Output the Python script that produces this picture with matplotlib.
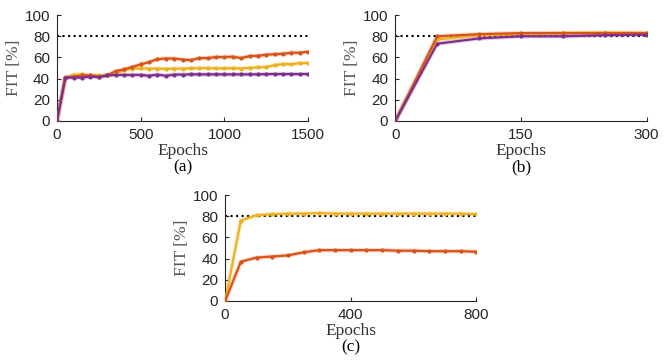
import numpy as np
import matplotlib
matplotlib.use("Agg")
from matplotlib import pyplot as plt

# epochs per panel
ep_a = np.arange(0, 1501, 50)
ep_b = np.arange(0, 301, 50)
ep_c = np.arange(0, 801, 50)

# panel (a)
fit_a_orange = [0, 41, 42, 43, 43, 42, 43, 47, 48.7, 51, 53.5, 55.6, 58.5, 59, 59, 58, 57.5,
                59.4, 59.4, 60.4, 60.4, 60.7, 59.4, 61.3, 61.6, 62.6, 63, 63.5, 64.5, 64.5, 65.4]
fit_a_yellow = [0, 41, 43.7, 44, 43, 43, 43, 45, 48, 49.4, 49.7, 49.5, 49.5, 49.2, 49.5, 49.5,
                49.7, 49.9, 49.9, 49.7, 49.7, 49.9, 49.5, 50.2, 50.6, 51, 52.8, 53.8, 53.6, 54.7, 54.7]
fit_a_purple = [0, 41, 41, 41, 42, 41.5, 43, 43.5, 43.5, 43.5, 43.5, 42.7, 43.8, 42.7, 43.8, 43.8,
                44, 44, 44, 44, 44, 44, 44, 44, 44, 44.3, 44.3, 44.3, 44.3, 44.3, 44.3]

# panel (b)
fit_b_orange = [0, 80, 82, 83, 83, 83, 83]
fit_b_yellow = [0, 77, 81, 82, 83, 83.5, 83]
fit_b_purple = [0, 73, 78, 80, 80, 81, 81.5]

# panel (c)
fit_c_yellow = [0, 76, 81, 82, 82.5, 82.5, 83, 82.5, 82.5, 82.5, 82.5, 82.5, 82.5, 82.5, 82.5, 82.5, 82]
fit_c_orange = [0, 37, 41, 42, 43, 46, 48, 48, 48, 48, 48, 47.5, 47.5, 47, 47, 47, 46.5]

target = 80

c_orange = '#D95319'
c_yellow = '#EDB120'
c_purple = '#7E2F8E'

serif = ['Liberation Serif', 'DejaVu Serif']
plt.rcParams['font.family'] = ['Liberation Sans', 'DejaVu Sans']
plt.rcParams['font.size'] = 11


def draw(ax, ep, series, xticks, cap):
    ax.plot([0, ep[-1]], [target, target], ':', color='black', lw=1.5, zorder=1)
    for y, c in series:
        ax.plot(ep, y, '-', color=c, lw=3.2, alpha=0.22, zorder=2)
        ax.plot(ep, y, '-', color=c, lw=1.6, marker='.', ms=4, zorder=3)
    ax.set_xlim(0, ep[-1])
    ax.set_ylim(0, 100)
    ax.set_xticks(xticks)
    ax.set_yticks(range(0, 101, 20))
    ax.spines['top'].set_visible(False)
    ax.spines['right'].set_visible(False)
    for s in ('left', 'bottom'):
        ax.spines[s].set_color('#262626')
        ax.spines[s].set_linewidth(0.8)
    ax.tick_params(direction='in', length=3, colors='#262626', labelsize=11, pad=5)
    ax.set_xlabel('Epochs', family=serif, fontsize=12.5, color='#333333', labelpad=1)
    ax.set_ylabel('FIT [%]', family=serif, fontsize=12.5, color='#555555', labelpad=2)
    ax.text(0.5, -0.44, cap, transform=ax.transAxes, ha='center', va='center',
            family=serif, fontsize=12.5, color='black')


fig = plt.figure(figsize=(6.7, 3.6), dpi=100)
ax_a = fig.add_axes([0.085, 0.664, 0.375, 0.294])
ax_b = fig.add_axes([0.59, 0.664, 0.375, 0.294])
ax_c = fig.add_axes([0.336, 0.164, 0.375, 0.294])

draw(ax_a, ep_a, [(fit_a_yellow, c_yellow), (fit_a_orange, c_orange), (fit_a_purple, c_purple)],
     [0, 500, 1000, 1500], '(a)')
draw(ax_b, ep_b, [(fit_b_yellow, c_yellow), (fit_b_orange, c_orange), (fit_b_purple, c_purple)],
     [0, 150, 300], '(b)')
draw(ax_c, ep_c, [(fit_c_yellow, c_yellow), (fit_c_orange, c_orange)],
     [0, 400, 800], '(c)')

fig.savefig('out.png', dpi=100)
